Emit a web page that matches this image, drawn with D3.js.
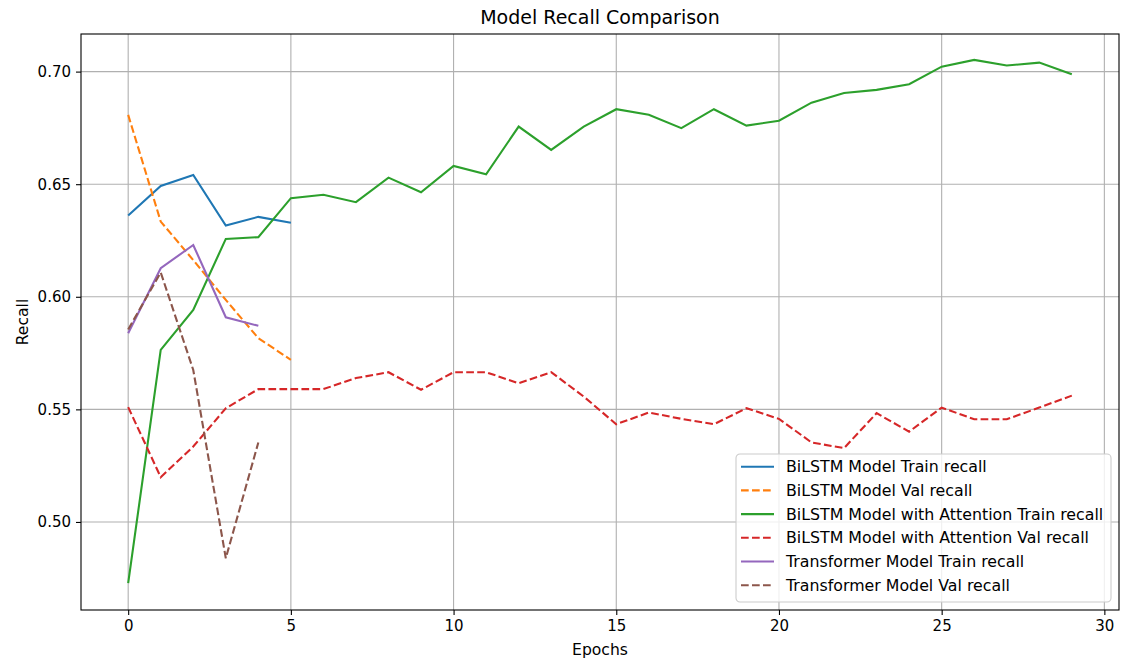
<!DOCTYPE html>
<html>
<head>
<meta charset="utf-8">
<script src="https://cdn.jsdelivr.net/npm/d3@7"></script>
<style>
  body { margin: 0; background: #fff; }
  text { font-family: "DejaVu Sans", sans-serif; fill: #000; }
</style>
</head>
<body>
<script>
// recall per epoch
var bilstmTrain = [0.6361, 0.6492, 0.6541, 0.6316, 0.6355, 0.6329];
var bilstmVal = [0.6808, 0.6334, 0.6163, 0.5986, 0.5816, 0.5720];
var attnTrain = [0.4728, 0.5764, 0.5942, 0.6257, 0.6265, 0.6438, 0.6453, 0.6420, 0.6529, 0.6464,
                 0.6581, 0.6544, 0.6756, 0.6652, 0.6756, 0.6833, 0.6808, 0.6749, 0.6833, 0.6760,
                 0.6782, 0.6862, 0.6905, 0.6919, 0.6944, 0.7022, 0.7052, 0.7027, 0.7040, 0.6988];
var attnVal = [0.5510, 0.5199, 0.5335, 0.5505, 0.5590, 0.5590, 0.5590, 0.5639, 0.5665, 0.5587,
               0.5665, 0.5665, 0.5616, 0.5665, 0.5557, 0.5434, 0.5486, 0.5458, 0.5434, 0.5505,
               0.5458, 0.5353, 0.5328, 0.5483, 0.5401, 0.5508, 0.5456, 0.5456, 0.5508, 0.5561];
var transTrain = [0.5838, 0.6127, 0.6230, 0.5909, 0.5871];
var transVal = [0.5855, 0.6108, 0.5675, 0.4839, 0.5353];

var seriesNames = ["BiLSTM Model Train recall", "BiLSTM Model Val recall",
  "BiLSTM Model with Attention Train recall", "BiLSTM Model with Attention Val recall",
  "Transformer Model Train recall", "Transformer Model Val recall"];
var xTicks = [0, 5, 10, 15, 20, 25, 30];
var yTicks = [0.50, 0.55, 0.60, 0.65, 0.70];

var series = [
  {name: seriesNames[0], values: bilstmTrain, color: "#1f77b4", dash: null},
  {name: seriesNames[1], values: bilstmVal, color: "#ff7f0e", dash: "7.7,3.3"},
  {name: seriesNames[2], values: attnTrain, color: "#2ca02c", dash: null},
  {name: seriesNames[3], values: attnVal, color: "#d62728", dash: "7.7,3.3"},
  {name: seriesNames[4], values: transTrain, color: "#9467bd", dash: null},
  {name: seriesNames[5], values: transVal, color: "#8c564b", dash: "7.7,3.3"}
];

var width = 1121, height = 663;
var margin = {top: 34, right: 2, bottom: 53, left: 81};
var w = width - margin.left - margin.right,
    h = height - margin.top - margin.bottom;

var svg = d3.select("body").append("svg")
  .attr("width", width)
  .attr("height", height);

var g = svg.append("g")
  .attr("transform", "translate(" + margin.left + "," + margin.top + ")");

var x = d3.scaleLinear().domain([-1.45, 30.45]).range([0, w]);
var y = d3.scaleLinear().domain([0.4609, 0.7167]).range([h, 0]);

// grid
g.append("g").selectAll("line").data(xTicks).enter().append("line")
  .attr("x1", function(d){ return x(d); }).attr("x2", function(d){ return x(d); })
  .attr("y1", 0).attr("y2", h)
  .style("stroke", "#b0b0b0").style("stroke-width", 1.1);
g.append("g").selectAll("line").data(yTicks).enter().append("line")
  .attr("y1", function(d){ return y(d); }).attr("y2", function(d){ return y(d); })
  .attr("x1", 0).attr("x2", w)
  .style("stroke", "#b0b0b0").style("stroke-width", 1.1);

// lines
var line = d3.line()
  .x(function(d, i){ return x(i); })
  .y(function(d){ return y(d); });

g.append("g").selectAll("path").data(series).enter().append("path")
  .attr("d", function(d){ return line(d.values); })
  .style("fill", "none")
  .style("stroke", function(d){ return d.color; })
  .style("stroke-width", 2.1)
  .style("stroke-dasharray", function(d){ return d.dash; });

// frame
g.append("rect").attr("width", w).attr("height", h)
  .style("fill", "none").style("stroke", "#000").style("stroke-width", 1.1);

// axes
var xAxis = g.append("g").attr("transform", "translate(0," + h + ")")
  .call(d3.axisBottom(x).tickValues(xTicks).tickFormat(d3.format("d")).tickSize(5).tickPadding(5));
var yAxis = g.append("g")
  .call(d3.axisLeft(y).tickValues(yTicks).tickFormat(d3.format(".2f")).tickSize(5).tickPadding(5));
[xAxis, yAxis].forEach(function(a){
  a.select(".domain").remove();
  a.selectAll("line").style("stroke", "#000").style("stroke-width", 1.1);
  a.selectAll("text").style("font-size", "15px").style("font-family", "DejaVu Sans, sans-serif");
});

// titles
svg.append("text").attr("x", margin.left + w / 2).attr("y", 24)
  .attr("text-anchor", "middle").style("font-size", "19px").text("Model Recall Comparison");
svg.append("text").attr("x", margin.left + w / 2).attr("y", 655)
  .attr("text-anchor", "middle").style("font-size", "15.6px").text("Epochs");
svg.append("text").attr("transform", "translate(27.5," + (margin.top + h / 2) + ") rotate(-90)")
  .attr("text-anchor", "middle").style("font-size", "15.6px").text("Recall");

// legend
var lg = svg.append("g").attr("transform", "translate(736,454)");
lg.append("rect").attr("width", 375).attr("height", 148).attr("rx", 4)
  .style("fill", "rgba(255,255,255,0.8)").style("stroke", "#cccccc").style("stroke-width", 1.1);
var item = lg.selectAll("g.item").data(series).enter().append("g")
  .attr("class", "item")
  .attr("transform", function(d, i){ return "translate(0," + (12.7 + i * 23.7) + ")"; });
item.append("line").attr("x1", 5).attr("x2", 38).attr("y1", 0).attr("y2", 0)
  .style("stroke", function(d){ return d.color; })
  .style("stroke-width", 2.1)
  .style("stroke-dasharray", function(d){ return d.dash; });
item.append("text").attr("x", 50).attr("y", 5.5)
  .style("font-size", "15.8px").text(function(d){ return d.name; });
</script>
</body>
</html>
